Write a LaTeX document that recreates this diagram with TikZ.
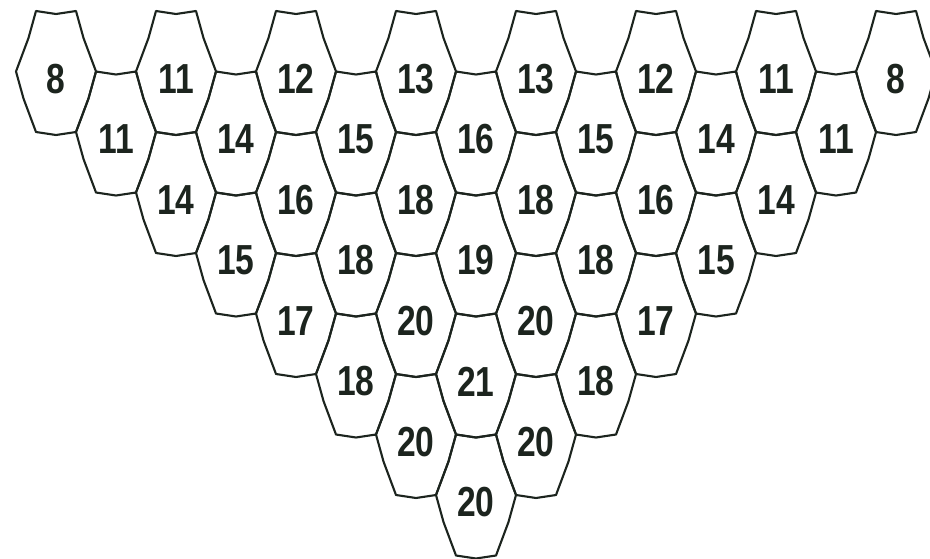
\documentclass[tikz,border=0pt]{standalone}
\usepackage{fontspec}
\newfontfamily\szamfont{Liberation Sans}[FakeStretch=0.8]
\usetikzlibrary{positioning}
\definecolor{tinta}{RGB}{28,36,30}
\tikzset{
  sejt/.style={draw=tinta,line width=2.1pt,line join=round},
  szam/.style={inner sep=0pt,text=tinta,font=\szamfont\bfseries\fontsize{42}{42}\selectfont},
  cella/.pic={
    \draw[sejt] (-20,-60.5) -- (0,-57.5) -- (20,-60.5) -- (27.5,-33.5) -- (40,0)
      -- (32.5,27) -- (20,60.5) -- (0,63.5) -- (-20,60.5) -- (-32.5,27)
      -- (-40,0) -- (-27.5,-33.5) -- cycle;
  },
}
\begin{document}
\begin{tikzpicture}[x=1pt,y=-1pt]
  \clip (0,0) rectangle (930,558);
  \fill[white] (0,0) rectangle (930,558);
  % rows of the triangle, top to bottom
  \foreach \r/\sor in {0/{8,11,12,13,13,12,11,8},1/{11,14,15,16,15,14,11},
      2/{14,16,18,18,16,14},3/{15,18,19,18,15},4/{17,20,20,17},
      5/{18,21,18},6/{20,20},7/{20}}{
    \foreach \v [count=\i from 0] in \sor {
      \pic at ({56+120*\i+60*\r},{71.5+60.5*\r}) {cella};
      \node[szam] (c-\r-\i) at ({56+120*\i+60*\r},{79+60.5*\r}) {\v};
    }
  }
\end{tikzpicture}
\end{document}
